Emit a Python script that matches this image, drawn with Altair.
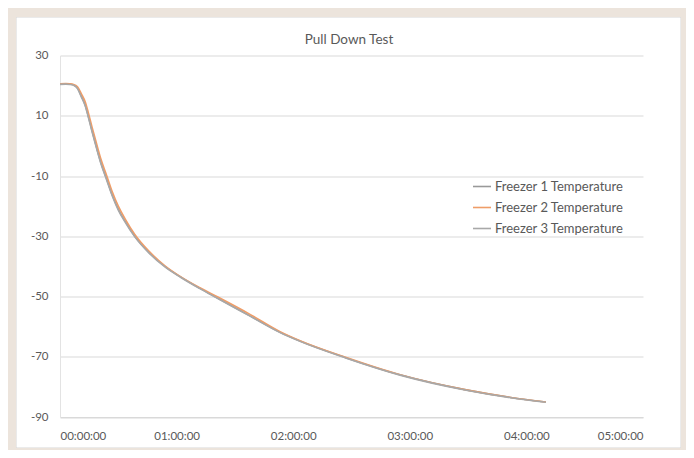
import altair as alt
import pandas as pd

# elapsed time in minutes
minutes = [0, 3, 5, 7, 9, 11, 13, 14.5, 16.5, 19, 21, 24, 27, 30, 33.5, 38.5, 46, 54,
           62, 72, 81, 98, 113, 123.5, 147, 175, 209, 232, 250]
freezer1 = [20.5, 20.6, 20.5, 20.2, 19.2, 16.5, 13.5, 10, 5, -1, -5.5, -11, -16.5, -21,
            -25, -30, -35.5, -40, -43.5, -47.3, -50.5, -56.5, -61.8, -64.8, -70.3, -76,
            -81, -83.5, -85]
freezer2 = [20.6, 20.7, 20.6, 20.4, 19.6, 17.3, 14.6, 11.2, 6.2, 0.3, -4.3, -9.8, -15.4,
            -20, -24.2, -29.4, -35.1, -39.8, -43.4, -47.1, -50.1, -56.0, -61.6, -64.7,
            -70.2, -76, -81, -83.5, -85]
freezer3 = [20.4, 20.5, 20.4, 20.1, 19.0, 16.2, 13.2, 9.7, 4.7, -1.3, -5.8, -11.3, -16.8,
            -21.3, -25.3, -30.2, -35.7, -40.2, -43.6, -47.4, -50.6, -56.6, -61.9, -64.9,
            -70.4, -76.1, -81.1, -83.6, -85.1]
series_names = ["Freezer 1 Temperature", "Freezer 2 Temperature", "Freezer 3 Temperature"]
series_colors = ["#999999", "#ef9d68", "#a8a8a8"]
y_ticks = [30, 10, -10, -30, -50, -70, -90]
x_ticks = [0, 60, 120, 180, 240, 300]
chart_title = "Pull Down Test"

rows = []
for name, vals in zip(series_names, [freezer1, freezer2, freezer3]):
    for i, (m, v) in enumerate(zip(minutes, vals)):
        rows.append({"Series": name, "Minutes": m, "Temp": v, "idx": i})
df = pd.DataFrame(rows)

W, H = 583, 361.5
FONT = "Lato"
TXT = "#595959"

lines = alt.Chart(df).mark_line(strokeWidth=1.6, interpolate="monotone").encode(
    x=alt.X("Minutes:Q", scale=alt.Scale(domain=[0, 300], nice=False),
            axis=alt.Axis(values=x_ticks, title=None, grid=False, ticks=False,
                          labelExpr="'0' + floor(datum.value / 60) + ':00:00'",
                          domainColor="#d9d9d9", labelPadding=13, labelFontSize=11.5,
                          labelColor=TXT, labelFont=FONT)),
    y=alt.Y("Temp:Q", scale=alt.Scale(domain=[-90, 30], nice=False),
            axis=alt.Axis(values=y_ticks, title=None, gridColor="#d9d9d9", ticks=False,
                          labelExpr="datum.value + ''",
                          domainColor="#e3e3e3", labelPadding=12, labelFontSize=11.5,
                          labelColor=TXT, labelFont=FONT)),
    color=alt.Color("Series:N", scale=alt.Scale(domain=series_names, range=series_colors),
                    legend=alt.Legend(orient="none", legendX=412, legendY=121, title=None,
                                      symbolType="stroke", symbolSize=324,
                                      symbolStrokeWidth=1.6, labelFontSize=13,
                                      labelColor=TXT, labelFont=FONT, rowPadding=4,
                                      labelOffset=3)),
    order="idx:Q",
)

one = pd.DataFrame({"t": [chart_title]})
title = alt.Chart(one).mark_text(font=FONT, fontSize=13.5, color=TXT, baseline="middle",
                                 align="center").encode(
    x=alt.value(289), y=alt.value(-15.5), text="t:N")
frame = alt.Chart(one).mark_rect(fillOpacity=0, stroke="#ece4dc", strokeWidth=18).encode(
    x=alt.value(-53), x2=alt.value(630), y=alt.value(-47.5), y2=alt.value(401.5))
panel = alt.Chart(one).mark_rect(fillOpacity=0, stroke="#d6d6d6", strokeWidth=1).encode(
    x=alt.value(-44), x2=alt.value(621), y=alt.value(-38.5), y2=alt.value(392.5))

chart = alt.layer(lines, title, panel, frame).properties(
    width=W, height=H,
    autosize=alt.AutoSizeParams(type="none"),
    padding={"left": 52, "top": 47.5, "right": 43, "bottom": 33},
    background="white",
).configure_view(stroke=None)

chart.save("out.html", embed_options={"renderer": "svg", "actions": False})
